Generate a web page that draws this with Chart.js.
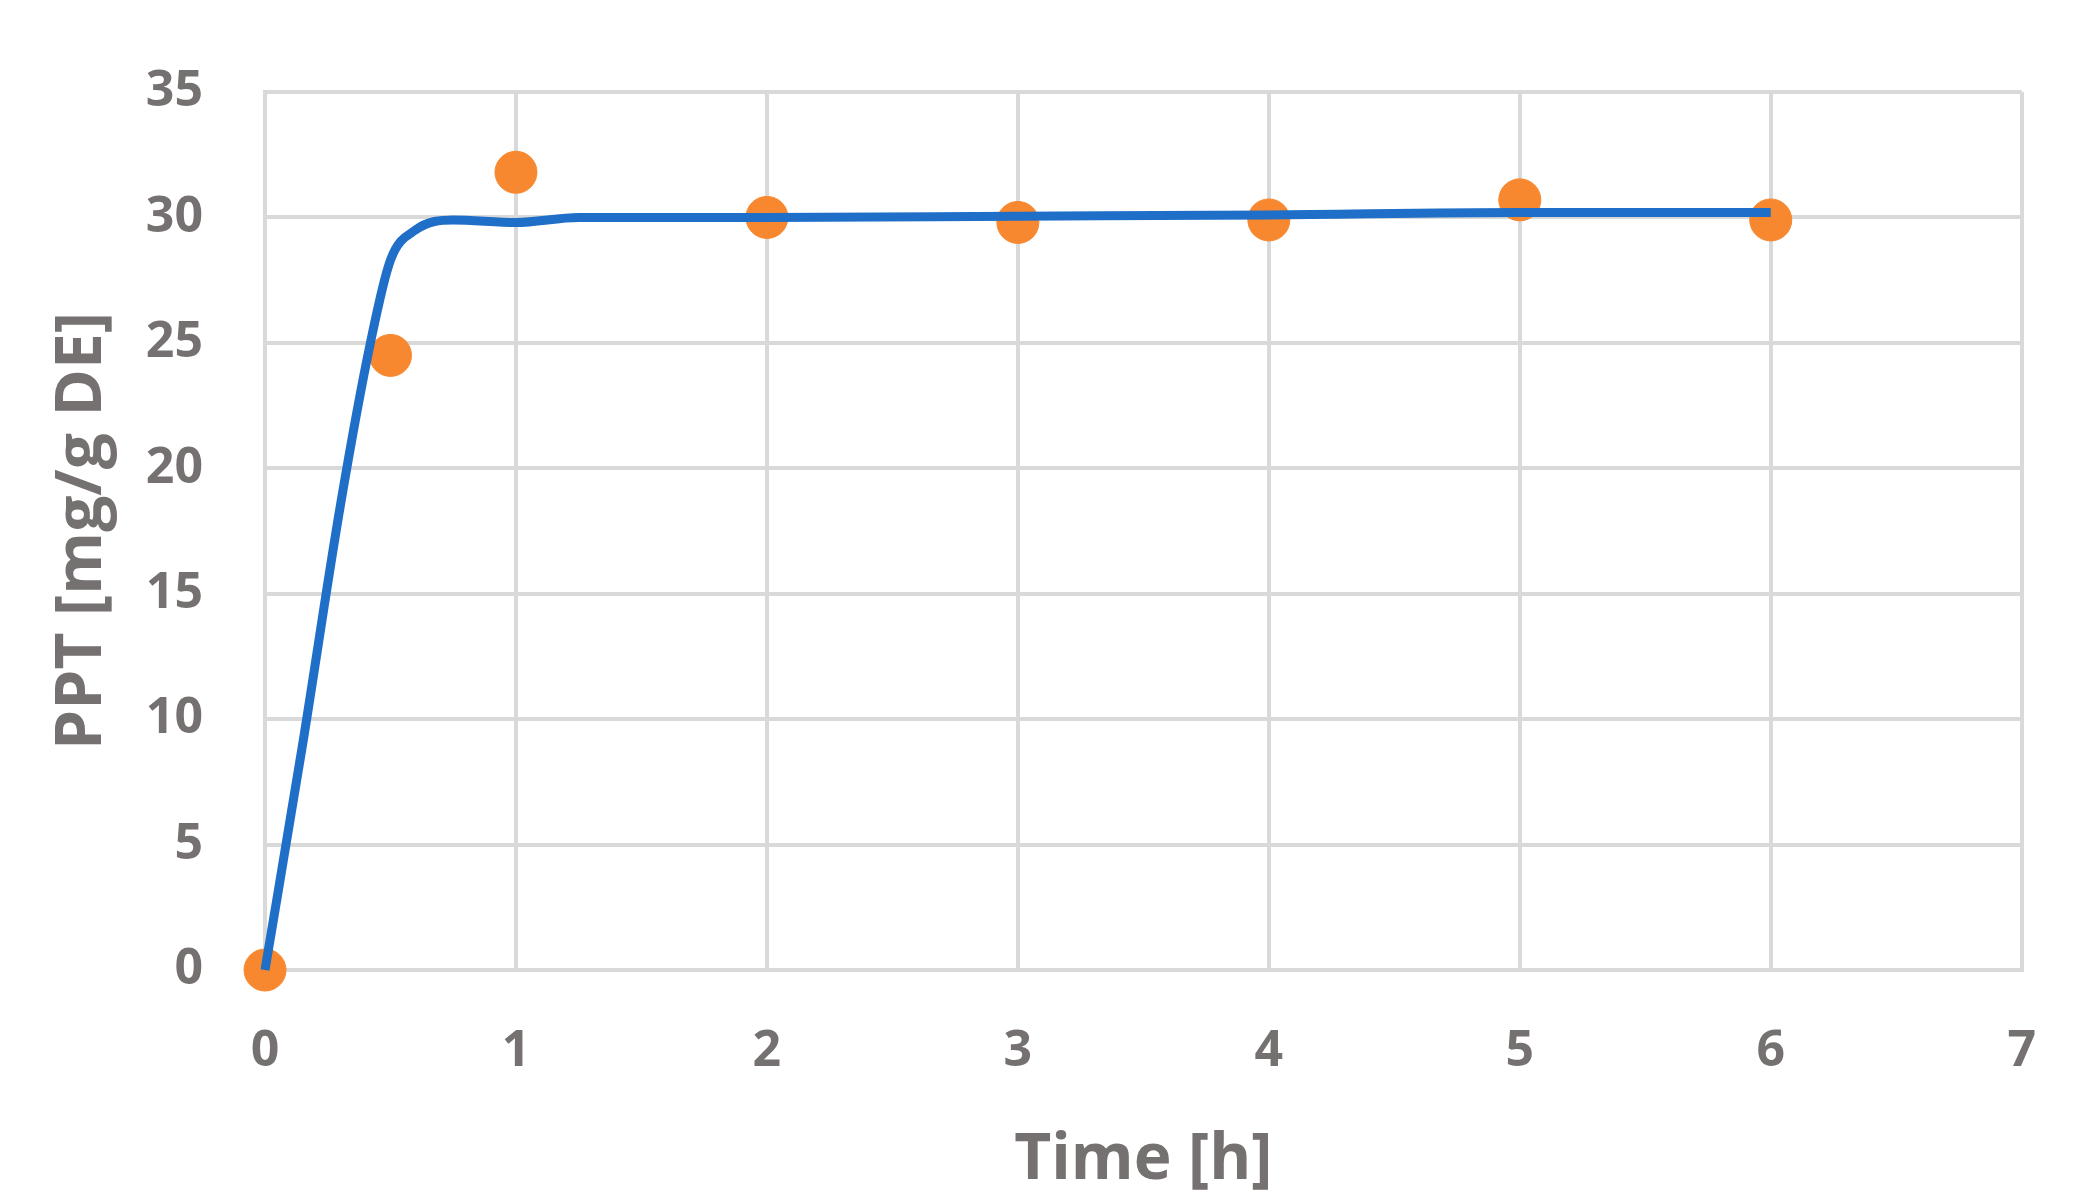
<!DOCTYPE html>
<html>
<head>
<meta charset="utf-8">
<style>
  html, body { margin: 0; padding: 0; background: #fff; }
  #wrap { width: 2088px; height: 1203px; }
</style>
<script src="https://cdn.jsdelivr.net/npm/chart.js@4"></script>
</head>
<body>
<div id="wrap"><canvas id="chart"></canvas></div>
<script>
// measured points
const timeH = [0, 0.5, 1, 2, 3, 4, 5, 6];
const pptMeasured = [0, 24.5, 31.8, 30.0, 29.8, 29.9, 30.7, 29.9];

// fitted curve
const fitTime = [0, 0.15, 0.3, 0.42, 0.5, 0.6, 0.75, 1, 1.25, 2, 3, 4, 5, 6];
const fitPPT = [0, 9, 18.5, 25, 28.3, 29.5, 29.9, 29.8, 30.0, 30.0, 30.05, 30.1, 30.2, 30.2];

const xTicks = [0, 1, 2, 3, 4, 5, 6, 7];

const grey = '#767171';
const tickFont = { family: 'Open Sans', weight: 'bold', size: 50 };
const titleFont = { family: 'Open Sans', weight: 'bold', size: 64 };

new Chart(document.getElementById('chart').getContext('2d'), {
    type: 'scatter',
    data: {
        datasets: [
            {
                type: 'line',
                label: 'Fit',
                data: fitTime.map((t, i) => ({ x: t, y: fitPPT[i] })),
                borderColor: '#1F6FC8',
                borderWidth: 9,
                pointRadius: 0,
                cubicInterpolationMode: 'monotone',
                fill: false,
                clip: false,
                order: 1
            },
            {
                label: 'PPT',
                data: timeH.map((t, i) => ({ x: t, y: pptMeasured[i] })),
                backgroundColor: '#F7882F',
                borderColor: '#F7882F',
                pointRadius: 21,
                clip: false,
                order: 2
            }
        ]
    },
    options: {
        responsive: true,
        maintainAspectRatio: false,
        animation: false,
        layout: { padding: { top: 51, right: 34, left: 40, bottom: 0 } },
        plugins: { legend: { display: false }, tooltip: { enabled: false } },
        scales: {
            x: {
                type: 'linear',
                min: 0,
                max: 7,
                afterBuildTicks: axis => { axis.ticks = xTicks.map(v => ({ value: v })); },
                afterFit: axis => { axis.height = 233; },
                grid: { color: '#d9d9d9', lineWidth: 4, drawTicks: false },
                border: { color: '#d9d9d9', width: 4 },
                ticks: { color: grey, font: tickFont, padding: 52 },
                title: {
                    display: true,
                    text: 'Time [h]',
                    color: grey,
                    font: titleFont,
                    padding: { top: 10 }
                }
            },
            y: {
                min: 0,
                max: 35,
                afterFit: axis => { axis.width = 225; },
                grid: { color: '#d9d9d9', lineWidth: 4, drawTicks: false },
                border: { color: '#d9d9d9', width: 4 },
                ticks: { stepSize: 5, color: grey, font: tickFont, padding: 62 },
                title: {
                    display: true,
                    text: 'PPT [mg/g DE]',
                    color: grey,
                    font: titleFont,
                    padding: { bottom: 10 }
                }
            }
        }
    }
});
</script>
</body>
</html>
